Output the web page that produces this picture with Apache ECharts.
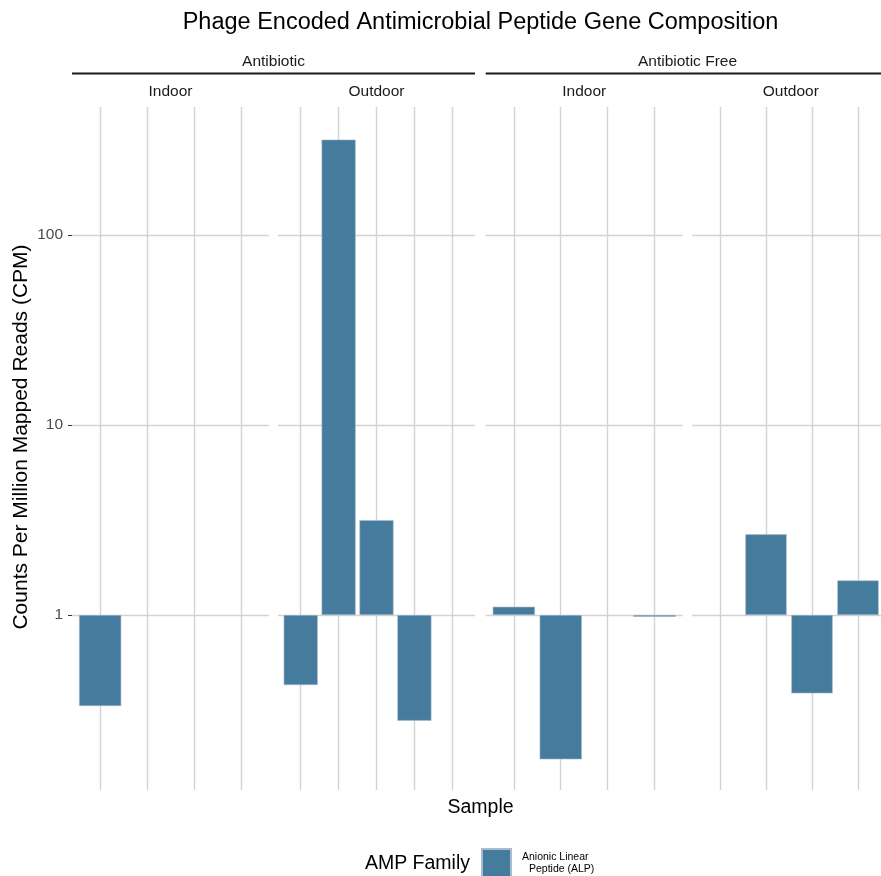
<!DOCTYPE html>
<html>
<head>
<meta charset="utf-8">
<script src="https://cdn.jsdelivr.net/npm/echarts@6/dist/echarts.min.js"></script>
<style>
  html, body { margin: 0; padding: 0; background: #ffffff; }
  #chart { width: 881px; height: 876px; }
</style>
</head>
<body>
<div id="chart"></div>
<script>
// Samples in each facet (sample names are not printed on the x axis)
const antibioticIndoorSamples  = ['AI-1', 'AI-2', 'AI-3', 'AI-4'];
const antibioticOutdoorSamples = ['AO-1', 'AO-2', 'AO-3', 'AO-4', 'AO-5'];
const freeIndoorSamples        = ['FI-1', 'FI-2', 'FI-3', 'FI-4'];
const freeOutdoorSamples       = ['FO-1', 'FO-2', 'FO-3', 'FO-4'];

// ALP counts per million mapped reads (null = not detected)
const antibioticIndoorCPM  = [0.332, null, null, null];
const antibioticOutdoorCPM = [0.428, 318, 3.16, 0.278, null];
const freeIndoorCPM        = [1.106, 0.174, null, 0.98];
const freeOutdoorCPM       = [null, 2.66, 0.387, 1.52];

// Facet strip labels
const treatmentLabels = ['Antibiotic', 'Antibiotic Free'];
const housingLabels   = ['Indoor', 'Outdoor'];

// Labelled y ticks (log10 scale)
const yTickValues = [1, 10, 100];

const familyName = 'Anionic Linear Peptide (ALP)';
const chartTitle = 'Phage Encoded Antimicrobial Peptide Gene Composition';

// ---- layout -------------------------------------------------------------
const FONT = '"Liberation Sans", Arial, sans-serif';
const BAR_COLOR = '#457B9D';
const GRID_COLOR = '#d3d3d3';
const PANEL_W = 197;
const PANEL_TOP = 107;
const PANEL_BOTTOM = 790;
const Y_MIN = 0.12, Y_MAX = 472;   // full vertical range of each panel

const panels = [
  { samples: antibioticIndoorSamples,  values: antibioticIndoorCPM,  left: 72 },
  { samples: antibioticOutdoorSamples, values: antibioticOutdoorCPM, left: 278 },
  { samples: freeIndoorSamples,        values: freeIndoorCPM,        left: 485.7 },
  { samples: freeOutdoorSamples,       values: freeOutdoorCPM,       left: 692.3 }
];

const panelH = PANEL_BOTTOM - PANEL_TOP;
const logSpan = Math.log10(Y_MAX) - Math.log10(Y_MIN);
const yPix = v => PANEL_TOP + (Math.log10(Y_MAX) - Math.log10(v)) / logSpan * panelH;
const tickTop = yPix(yTickValues[yTickValues.length - 1]);
const tickBottom = yPix(yTickValues[0]);

const grid = [], xAxis = [], yAxis = [], series = [];

panels.forEach((p, i) => {
  const n = p.samples.length;
  const unit = PANEL_W / (n + 0.2);          // discrete scale with 0.6 expansion each side

  // background grid: horizontal gridlines at labelled ticks, full panel width
  grid.push({ left: p.left, top: tickTop, width: PANEL_W, height: tickBottom - tickTop, containLabel: false });
  xAxis.push({ type: 'value', gridIndex: 2 * i, show: false, min: 0, max: 1 });
  yAxis.push({
    type: 'log', logBase: 10, gridIndex: 2 * i,
    min: yTickValues[0], max: yTickValues[yTickValues.length - 1],
    axisLine: { show: false },
    axisTick: { show: i === 0, length: 4, lineStyle: { color: '#333333', width: 1 } },
    axisLabel: { show: i === 0, color: '#4d4d4d', fontSize: 15.5, fontFamily: FONT, margin: 9 },
    splitLine: { show: true, lineStyle: { color: GRID_COLOR, width: 1.4 } }
  });

  // bar grid: category axis, vertical gridlines through each sample
  grid.push({ left: p.left + 0.1 * unit, top: PANEL_TOP, width: n * unit, height: panelH, containLabel: false });
  xAxis.push({
    type: 'category', gridIndex: 2 * i + 1, data: p.samples,
    axisLine: { show: false }, axisTick: { show: false }, axisLabel: { show: false },
    splitLine: { show: true, alignWithLabel: true, lineStyle: { color: GRID_COLOR, width: 1.4 } }
  });
  yAxis.push({
    type: 'log', logBase: 10, gridIndex: 2 * i + 1, min: Y_MIN, max: Y_MAX,
    axisLine: { show: false }, axisTick: { show: false }, axisLabel: { show: false },
    splitLine: { show: false }
  });

  series.push({
    type: 'bar', name: familyName,
    xAxisIndex: 2 * i + 1, yAxisIndex: 2 * i + 1,
    data: p.values, barWidth: '90%',
    itemStyle: { color: BAR_COLOR, borderColor: '#a9bccb', borderWidth: 0.6 },
    emphasis: { disabled: true },
    z: 3
  });
});

// strips and titles
const txt = (text, x, y, size, color, align, extra) => Object.assign({
  type: 'text', x, y, silent: true,
  style: { text, fill: color, font: size + 'px ' + FONT, align: align || 'center', verticalAlign: 'middle' }
}, extra || {});

const graphic = [
  txt(chartTitle, 480.5, 21, 23.5, '#000000'),
  txt('Sample', 480.5, 806, 19.5, '#000000'),
  txt('Counts Per Million Mapped Reads (CPM)', 21, 437, 21, '#000000', 'center', { rotation: Math.PI / 2 }),
  txt('AMP Family', 470, 862, 19.5, '#000000', 'right')
];

treatmentLabels.forEach((t, k) => {
  const l = panels[2 * k].left, r = panels[2 * k + 1].left + PANEL_W;
  graphic.push(txt(t, (l + r) / 2, 60, 15.5, '#1a1a1a'));
  graphic.push({ type: 'line', silent: true, shape: { x1: l, y1: 73.5, x2: r, y2: 73.5 },
                 style: { stroke: '#1a1a1a', lineWidth: 2 } });
});
panels.forEach((p, i) => {
  graphic.push(txt(housingLabels[i % 2], p.left + PANEL_W / 2, 90, 15.5, '#1a1a1a'));
});
// text baseline sits slightly high with middle alignment; nudge down
graphic.forEach(g => { if (g.type === 'text' && !g.rotation) g.y += 2; });

const chart = echarts.init(document.getElementById('chart'), null, { renderer: 'canvas' });
chart.setOption({
  animation: false,
  backgroundColor: '#ffffff',
  grid, xAxis, yAxis, series, graphic,
  legend: {
    data: [familyName],
    left: 481, top: 848, padding: 0,
    icon: 'rect', itemWidth: 29, itemHeight: 29,
    selectedMode: false,
    formatter: () => '{a|Anionic Linear}\n{b|Peptide (ALP)}',
    textStyle: {
      fontFamily: FONT, fontSize: 10.5, color: '#000000',
      rich: {
        a: { fontFamily: FONT, fontSize: 10.5, lineHeight: 12, padding: [0, 0, 0, 6] },
        b: { fontFamily: FONT, fontSize: 10.5, lineHeight: 12, padding: [0, 0, 0, 13] }
      }
    }
  }
});
</script>
</body>
</html>
